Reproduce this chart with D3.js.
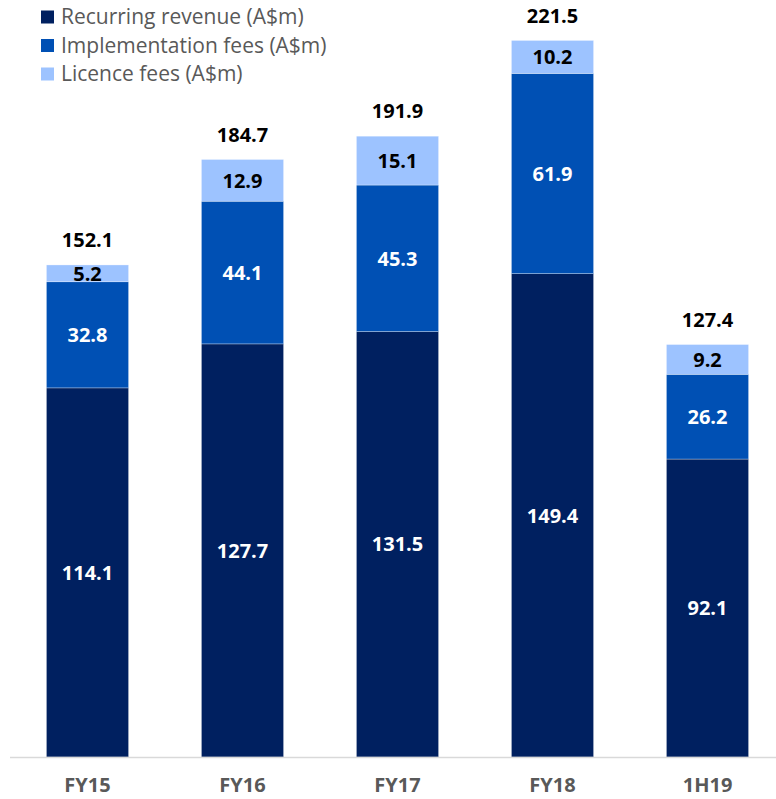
<!DOCTYPE html>
<html>
<head>
<meta charset="utf-8">
<script src="https://cdn.jsdelivr.net/npm/d3@7"></script>
<style>
  html, body { margin: 0; padding: 0; background: #fff; }
  svg { display: block; }
</style>
</head>
<body>
<div id="chart"></div>
<script>
// Chart data
const categories = ['FY15', 'FY16', 'FY17', 'FY18', '1H19'];
const recurring = [114.1, 127.7, 131.5, 149.4, 92.1];
const implementation = [32.8, 44.1, 45.3, 61.9, 26.2];
const licence = [5.2, 12.9, 15.1, 10.2, 9.2];
const totals = [152.1, 184.7, 191.9, 221.5, 127.4];
const seriesNames = ['Recurring revenue (A$m)', 'Implementation fees (A$m)', 'Licence fees (A$m)'];

const width = 776, height = 799;
const font = '"Open Sans", "Noto Sans", sans-serif';
const colors = ['#002060', '#0050B4', '#9DC3FF'];
const labelColors = ['#ffffff', '#ffffff', '#000000'];

const svg = d3.select('#chart').append('svg')
  .attr('width', width)
  .attr('height', height);

// Build stack table
const table = categories.map((c, i) => ({
  cat: c, recurring: recurring[i], implementation: implementation[i], licence: licence[i], total: totals[i]
}));
const keys = ['recurring', 'implementation', 'licence'];
const stacked = d3.stack().keys(keys)(table);

const x = d3.scaleBand()
  .domain(categories)
  .range([10, 785])
  .paddingInner(0.47)
  .paddingOuter(0.235);

const y = d3.scaleLinear()
  .domain([0, 234])
  .range([757, 0]);

// Bars
const layers = svg.append('g').selectAll('g.layer')
  .data(stacked)
  .enter().append('g')
  .attr('class', 'layer')
  .attr('fill', (d, i) => colors[i]);

layers.selectAll('rect')
  .data(d => d)
  .enter().append('rect')
  .attr('x', d => x(d.data.cat))
  .attr('width', x.bandwidth())
  .attr('y', d => y(d[1]))
  .attr('height', d => y(d[0]) - y(d[1]))
  .style('stroke', '#ffffff')
  .style('stroke-width', 0.6)
  .style('stroke-opacity', 0.5);

// Segment labels
layers.each(function(layer, li) {
  d3.select(this).selectAll('text')
    .data(layer)
    .enter().append('text')
    .attr('x', d => x(d.data.cat) + x.bandwidth() / 2)
    .attr('y', d => (y(d[0]) + y(d[1])) / 2)
    .attr('dy', '0.36em')
    .attr('text-anchor', 'middle')
    .style('fill', labelColors[li])
    .style('font-family', font)
    .style('font-weight', 700)
    .style('font-size', '20px')
    .text(d => d3.format('.1f')(d[1] - d[0]));
});

// Total labels
svg.append('g').selectAll('text')
  .data(table)
  .enter().append('text')
  .attr('x', d => x(d.cat) + x.bandwidth() / 2)
  .attr('y', d => y(d.total) - 25)
  .attr('dy', '0.36em')
  .attr('text-anchor', 'middle')
  .style('fill', '#000')
  .style('font-family', font)
  .style('font-weight', 700)
  .style('font-size', '20px')
  .text(d => d3.format('.1f')(d.total));

// X axis
const xAxis = svg.append('g')
  .attr('transform', `translate(0, ${y(0)})`)
  .call(d3.axisBottom(x).tickSize(0).tickPadding(21));
xAxis.select('.domain')
  .attr('d', `M10,0.5H776`)
  .style('stroke', '#d9d9d9')
  .style('stroke-width', 1.5);
xAxis.selectAll('text')
  .style('fill', '#595959')
  .style('font-family', font)
  .style('font-weight', 700)
  .style('font-size', '20px');

// Legend
const legend = svg.append('g').attr('transform', 'translate(41, 17)');
const items = legend.selectAll('g')
  .data(seriesNames)
  .enter().append('g')
  .attr('transform', (d, i) => `translate(0, ${i * 28.5})`);
items.append('rect')
  .attr('y', -6.5)
  .attr('width', 13)
  .attr('height', 13)
  .style('fill', (d, i) => colors[i]);
items.append('text')
  .attr('x', 20)
  .attr('dy', '0.35em')
  .style('fill', '#595959')
  .style('font-family', font)
  .style('font-size', '21px')
  .text(d => d);
</script>
</body>
</html>
